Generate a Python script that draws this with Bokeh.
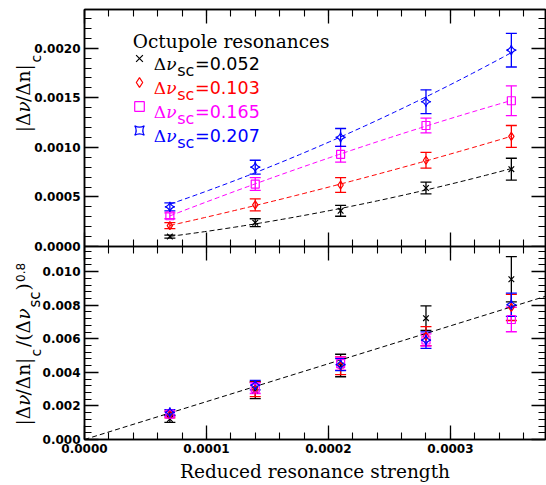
import numpy as np
from bokeh.plotting import figure
from bokeh.models import (Range1d, LinearAxis, SingleIntervalTicker, NumeralTickFormatter,
                          Whisker, TeeHead, ColumnDataSource, Label, Legend, LegendItem)
from bokeh.layouts import column, row
from bokeh.embed import file_html
from bokeh.resources import INLINE

# ---------------- data ----------------
strength = [0.00007, 0.00014, 0.00021, 0.00028, 0.00035]
dnu_labels = ["0.052", "0.103", "0.165", "0.207"]

top_052 = [0.00010, 0.00024, 0.00036, 0.00059, 0.00078]
top_103 = [0.00021, 0.00042, 0.00062, 0.00087, 0.00111]
top_165 = [0.00031, 0.00063, 0.00093, 0.00122, 0.00147]
top_207 = [0.00040, 0.00080, 0.00110, 0.00146, 0.00198]
err_top_052 = [0.000015, 0.00004, 0.000055, 0.00006, 0.00011]
err_top_103 = [0.00003, 0.00006, 0.000075, 0.00008, 0.00011]
err_top_165 = [0.00003, 0.000065, 0.00008, 0.000075, 0.00015]
err_top_207 = [0.00004, 0.00007, 0.00009, 0.00012, 0.00017]

bot_052 = [0.00122, 0.00294, 0.00441, 0.00723, 0.00955]
bot_103 = [0.00149, 0.00298, 0.00439, 0.00616, 0.00787]
bot_165 = [0.00151, 0.00306, 0.00452, 0.00593, 0.00715]
bot_207 = [0.00162, 0.00324, 0.00446, 0.00592, 0.00803]
err_bot_052 = [0.0002, 0.0005, 0.00067, 0.00073, 0.00135]
err_bot_103 = [0.0002, 0.00043, 0.00053, 0.00057, 0.00078]
err_bot_165 = [0.00015, 0.00032, 0.00039, 0.00036, 0.00073]
err_bot_207 = [0.00016, 0.00028, 0.00036, 0.00049, 0.00069]

x_end = 0.000378
top_y_end = 0.00239
bot_y_end = 0.0115

top_series = [top_052, top_103, top_165, top_207]
top_errs = [err_top_052, err_top_103, err_top_165, err_top_207]
bot_series = [bot_052, bot_103, bot_165, bot_207]
bot_errs = [err_bot_052, err_bot_103, err_bot_165, err_bot_207]

colors = ["#000000", "#ff0000", "#ff00ff", "#0000ff"]
markers = ["x", "diamond", "square", "square_pin"]
msizes = [8, 8, 8, 7]
mangles = [0, 0, 0, np.pi / 4]

# ---------------- layout constants ----------------
W, H = 546, 485
LEFT, RIGHT = 84, 1
TOP_FH, BOT_FH = 237, 193
OVER = 8
TOP_H = 9 + TOP_FH + OVER
BOT_H = 0 + BOT_FH + 46

TICK_FONT = "DejaVu Sans"
SERIF = "DejaVu Serif"


def style_axis(ax, labels=True):
    ax.major_tick_in = 14
    ax.major_tick_out = 0
    ax.minor_tick_in = 7
    ax.minor_tick_out = 0
    ax.axis_line_color = "black"
    ax.axis_line_width = 1.5
    ax.major_tick_line_color = "black"
    ax.minor_tick_line_color = "black"
    ax.major_tick_line_width = 1.3
    ax.minor_tick_line_width = 1.1
    ax.major_label_text_font = TICK_FONT
    ax.major_label_text_font_style = "bold"
    if labels:
        ax.major_label_text_color = "black"
        ax.major_label_text_font_size = "12px"
        ax.major_label_standoff = 4
    else:
        ax.major_label_text_color = None
        ax.major_label_text_font_size = "1px"
        ax.major_label_standoff = 0


def make_fig(y_end, height, mb_top, mb_bottom, y_interval, y_fmt, x_labels):
    p = figure(width=W, height=height, x_range=Range1d(0, x_end), y_range=Range1d(0, y_end),
               output_backend="svg", toolbar_location=None,
               min_border_left=LEFT, min_border_right=RIGHT,
               min_border_top=mb_top, min_border_bottom=mb_bottom)
    p.grid.visible = False
    p.outline_line_color = "black"
    p.outline_line_width = 1.5
    p.border_fill_alpha = 0
    xt = SingleIntervalTicker(interval=0.0001, num_minor_ticks=5)
    yt = SingleIntervalTicker(interval=y_interval, num_minor_ticks=5)
    ax_b = p.below[0]
    ax_l = p.left[0]
    ax_b.ticker = xt
    ax_l.ticker = yt
    ax_b.formatter = NumeralTickFormatter(format="0.0000")
    ax_l.formatter = NumeralTickFormatter(format=y_fmt)
    style_axis(ax_b, labels=x_labels)
    style_axis(ax_l, labels=True)
    ax_r = LinearAxis(ticker=yt)
    style_axis(ax_r, labels=False)
    p.add_layout(ax_r, "right")
    ax_t = LinearAxis(ticker=xt)
    style_axis(ax_t, labels=False)
    p.add_layout(ax_t, "above")
    return p, ax_b


def lab(p, text, sx, sy, font, size, color="black", style="normal", angle=0):
    p.add_layout(Label(x=sx, y=sy, x_units="screen", y_units="screen", text=text,
                       text_font=font, text_font_size=f"{size}px", text_color=color,
                       text_font_style=style, text_align="left", text_baseline="alphabetic",
                       angle=angle, angle_units="deg"))


def add_series(p, ys, es, c, m, s, a):
    xs = np.array(strength)
    yv = np.array(ys)
    ev = np.array(es)
    src = ColumnDataSource(dict(x=xs, y=yv, up=yv + ev, lo=yv - ev))
    p.add_layout(Whisker(source=src, base="x", upper="up", lower="lo", dimension="height",
                         line_color=c, line_width=1.3,
                         upper_head=TeeHead(size=11, line_color=c, line_width=1.3),
                         lower_head=TeeHead(size=11, line_color=c, line_width=1.3)))
    return p.scatter("x", "y", source=src, marker=m, size=s, angle=a, line_color=c,
                     fill_color=None, line_width=1.2)


# ---------------- top panel ----------------
top, _ = make_fig(top_y_end, TOP_H, 9, OVER, 0.0005, "0.0000", False)

renderers = []
for ys, es, c, m, s, a in zip(top_series, top_errs, colors, markers, msizes, mangles):
    xs = np.array(strength)
    coef = np.polyfit(xs, np.array(ys), 2)
    xf = np.linspace(xs[0], xs[-1], 80)
    top.line(xf, np.polyval(coef, xf), line_color=c, line_dash="5 3", line_width=1)
    renderers.append(add_series(top, ys, es, c, m, s, a))


def tpos(rx, ry):
    # reference page coords -> top-frame screen coords
    return rx - LEFT, TOP_FH - (ry - 9)


legend = Legend(items=[LegendItem(label=" ", renderers=[r]) for r in renderers],
                location=(138.5 - LEFT - 12, tpos(0, 58.3 + 72 + 12)[1]),
                glyph_width=24, glyph_height=24, spacing=0, padding=0, margin=0,
                label_standoff=0, label_height=24, label_text_font_size="1px",
                label_text_color=None, background_fill_alpha=0, border_line_alpha=0)
top.add_layout(legend)

lab(top, "Octupole resonances", *tpos(132.3, 40.7), SERIF, 18.5)
for i, (t, c) in enumerate(zip(dnu_labels, colors)):
    ry = 63.5 + 24 * i
    lab(top, "Δ", *tpos(153.3, ry), SERIF, 17, c)
    lab(top, "ν", *tpos(165.7, ry), SERIF, 17, c, style="italic")
    lab(top, "sc", *tpos(176.7, ry + 6.5), TICK_FONT, 16, c)
    lab(top, "=" + t, *tpos(194.5, ry), TICK_FONT, 17.5, c)

# ---------------- bottom panel ----------------
bot, bot_xaxis = make_fig(bot_y_end, BOT_H, 0, 46, 0.002, "0.000", True)
bot.margin = (-OVER, 0, 0, 0)
bot_xaxis.axis_label = "Reduced resonance strength"
bot_xaxis.axis_label_text_font = SERIF
bot_xaxis.axis_label_text_font_size = "18.5px"
bot_xaxis.axis_label_text_font_style = "normal"
bot_xaxis.axis_label_text_color = "black"
bot_xaxis.axis_label_standoff = 5
bot_xaxis.major_label_standoff = 4

allx = np.tile(np.array(strength), len(bot_series))
ally = np.concatenate([np.array(b) for b in bot_series])
slope = float(np.sum(allx * ally) / np.sum(allx * allx))
bot.line([0, x_end], [0, slope * x_end], line_color="black", line_dash="5 3", line_width=1)

for ys, es, c, m, s, a in zip(bot_series, bot_errs, colors, markers, msizes, mangles):
    add_series(bot, ys, es, c, m, s, a)

# ---------------- underlay canvas holding the rotated y-axis titles ----------------
bg = figure(width=W, height=H, output_backend="svg", toolbar_location=None,
            x_axis_location=None, y_axis_location=None,
            min_border_left=0, min_border_right=0, min_border_top=0, min_border_bottom=0)
bg.grid.visible = False
bg.outline_line_color = None


def gpos(rx, ry):
    return rx, H - ry


# top panel: |Δν/Δn|_c
lab(bg, "|Δ", *gpos(23, 131.7), SERIF, 18.5, angle=90)
lab(bg, "ν", *gpos(23, 112.0), SERIF, 18.5, style="italic", angle=90)
lab(bg, "/Δn|", *gpos(23, 101.6), SERIF, 18.5, angle=90)
lab(bg, "c", *gpos(35.5, 62), TICK_FONT, 14, angle=90)

# bottom panel: |Δν/Δn|_c/(Δν_sc)^0.8
lab(bg, "|Δ", *gpos(23, 425), SERIF, 18.5, angle=90)
lab(bg, "ν", *gpos(23, 405.3), SERIF, 18.5, style="italic", angle=90)
lab(bg, "/Δn|", *gpos(23, 394.9), SERIF, 18.5, angle=90)
lab(bg, "c", *gpos(35.5, 356), TICK_FONT, 14, angle=90)
lab(bg, "/(Δ", *gpos(23, 346.5), SERIF, 18.5, angle=90)
lab(bg, "ν", *gpos(23, 319), SERIF, 18.5, style="italic", angle=90)
lab(bg, "sc", *gpos(34, 307), TICK_FONT, 15, angle=90)
lab(bg, ")", *gpos(23, 290), SERIF, 18.5, angle=90)
lab(bg, "0.8", *gpos(20, 281.5), TICK_FONT, 12, angle=90)

main = column(top, bot, spacing=0)
main.margin = (0, 0, 0, -W)
layout = row(bg, main, spacing=0)
open("out.html", "w").write(file_html(layout, INLINE))
